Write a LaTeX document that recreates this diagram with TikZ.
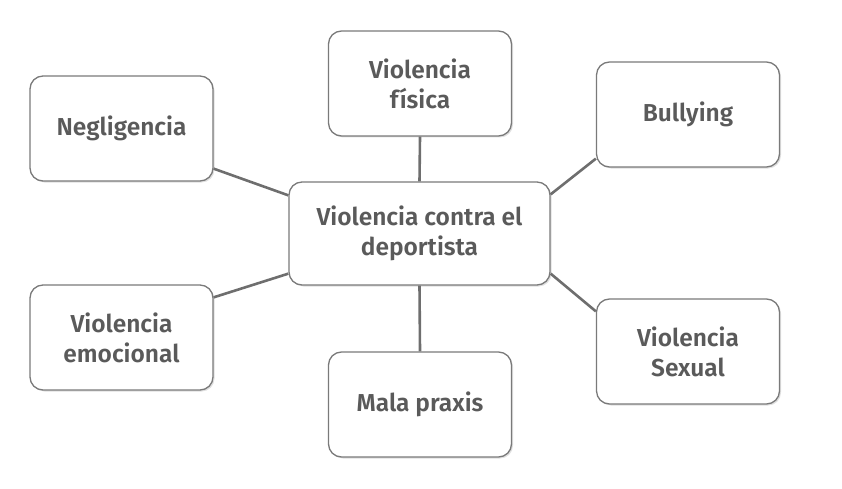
\documentclass[tikz,border=0pt]{standalone}
\usepackage{fontspec}
\setmainfont{Fira Sans}[BoldFont={Fira Sans SemiBold}]
\usetikzlibrary{calc,shadows}
\definecolor{txtgray}{HTML}{5A5A5A}
\definecolor{bordergray}{HTML}{7A7A7A}
\definecolor{linegray}{HTML}{6E6E6E}
\tikzset{
  topic/.style={draw=bordergray, line width=1.3pt, rounded corners=13pt, fill=white,
    drop shadow={shadow xshift=1.5pt, shadow yshift=-1.5pt, opacity=0.25},
    minimum width=183pt, minimum height=105pt, align=center, text=txtgray,
    font=\fontsize{24.5}{30}\selectfont\bfseries, inner sep=2pt},
  hub/.style={topic, minimum width=261pt, minimum height=103pt},
  link/.style={draw=linegray, line width=2.6pt}
}
\begin{document}
\begin{tikzpicture}[x=1pt,y=-1pt]
\useasboundingbox (0,0) rectangle (842,489);
\node[hub] (c) at (419.5,233.5) {Violencia contra el\\deportista};
\node[topic] (fis) at (420,83.5) {Violencia\\física};
\node[topic] (neg) at (121.5,128.5) {Negligencia};
\node[topic] (bul) at (688,114.5) {Bullying};
\node[topic] (emo) at (121.5,337.5) {Violencia\\emocional};
\node[topic] (mal) at (420,404.5) {Mala praxis};
\node[topic] (sex) at (688,351.5) {Violencia\\Sexual};
\draw[link] (c.north) -- (fis.south);
\draw[link] (c.south) -- (mal.north);
\draw[link] ($(neg.south east)+(0,-13)$) -- ($(c.north west)+(0,14)$);
\draw[link] ($(c.north east)+(0,13)$) -- ($(bul.south west)+(0,-9)$);
\draw[link] ($(emo.north east)+(0,13)$) -- ($(c.south west)+(0,-12)$);
\draw[link] ($(c.south east)+(0,-12)$) -- ($(sex.north west)+(0,13)$);
\end{tikzpicture}
\end{document}
